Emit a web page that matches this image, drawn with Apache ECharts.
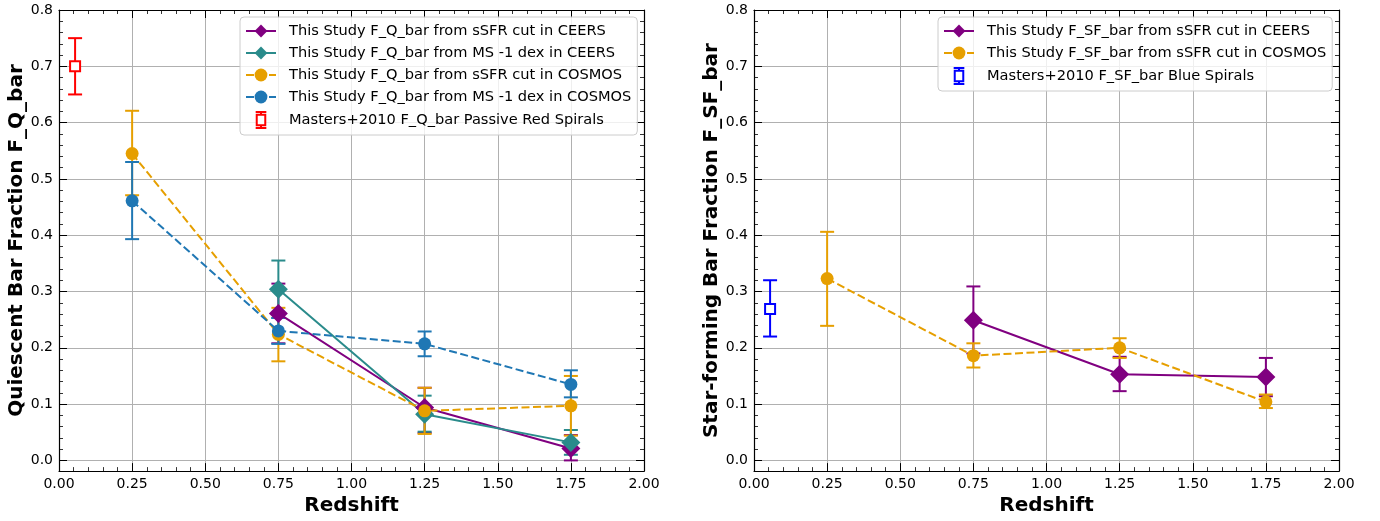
<!DOCTYPE html>
<html>
<head>
<meta charset="utf-8">
<script src="https://cdn.jsdelivr.net/npm/echarts@6/dist/echarts.min.js"></script>
<style>
html,body{margin:0;padding:0;background:#fff;}
#chart{width:1380px;height:521px;}
</style>
</head>
<body>
<div id="chart"></div>
<script>
// ---- Data: rows are [redshift, fraction, lowerErr, upperErr] ----
const fqSsfrCeers   = [[0.75, 0.261, 0.208, 0.314], [1.25, 0.094, 0.049, 0.129], [1.75, 0.021, 0.000, 0.045]];
const fqMsCeers     = [[0.75, 0.304, 0.253, 0.355], [1.25, 0.082, 0.051, 0.115], [1.75, 0.032, 0.010, 0.054]];
const fqSsfrCosmos  = [[0.25, 0.545, 0.471, 0.621], [0.75, 0.224, 0.176, 0.271], [1.25, 0.088, 0.047, 0.129], [1.75, 0.097, 0.044, 0.150]];
const fqMsCosmos    = [[0.25, 0.461, 0.393, 0.530], [0.75, 0.230, 0.207, 0.253], [1.25, 0.207, 0.185, 0.229], [1.75, 0.135, 0.112, 0.160]];
const fqMasters     = [[0.055, 0.700, 0.650, 0.750]];
const fsfSsfrCeers  = [[0.75, 0.249, 0.190, 0.309], [1.25, 0.153, 0.123, 0.184], [1.75, 0.148, 0.114, 0.182]];
const fsfSsfrCosmos = [[0.25, 0.323, 0.239, 0.406], [0.75, 0.186, 0.165, 0.208], [1.25, 0.200, 0.182, 0.217], [1.75, 0.104, 0.093, 0.117]];
const fsfMasters    = [[0.055, 0.269, 0.220, 0.320]];

const leftNames = [
  'This Study F_Q_bar from sSFR cut in CEERS',
  'This Study F_Q_bar from MS -1 dex in CEERS',
  'This Study F_Q_bar from sSFR cut in COSMOS',
  'This Study F_Q_bar from MS -1 dex in COSMOS',
  'Masters+2010 F_Q_bar Passive Red Spirals'
];
const rightNames = [
  'This Study F_SF_bar from sSFR cut in CEERS',
  'This Study F_SF_bar from sSFR cut in COSMOS',
  'Masters+2010 F_SF_bar Blue Spirals'
];
const xTitle = 'Redshift';
const yTitleLeft = 'Quiescent Bar Fraction F_Q_bar';
const yTitleRight = 'Star-forming Bar Fraction F_SF_bar';

const C_PURPLE = '#800080', C_TEAL = '#2a8b8b', C_ORANGE = '#e69f00', C_BLUE = '#1f77b4';
const FONT = 'DejaVu Sans';

function xAxes(g) {
  const base = {
    type: 'value', gridIndex: g, min: 0, max: 2, interval: 0.25,
    axisLine: {show: true, onZero: false, lineStyle: {color: '#000', width: 1.2}},
    axisTick: {show: true, inside: true, length: 8, lineStyle: {color: '#000', width: 1}},
    minorTick: {show: true, splitNumber: 5, length: 4, lineStyle: {color: '#000', width: 0.8}},
  };
  return [
    Object.assign({}, base, {
      position: 'bottom',
      splitLine: {show: true, lineStyle: {color: '#b0b0b0', width: 1}},
      axisLabel: {formatter: v => v.toFixed(2), fontSize: 14, color: '#000', margin: 6, fontFamily: FONT},
      name: xTitle, nameLocation: 'middle', nameGap: 22,
      nameTextStyle: {fontWeight: 'bold', fontSize: 20, color: '#000', fontFamily: FONT}
    }),
    Object.assign({}, base, {
      position: 'top', splitLine: {show: false}, axisLabel: {show: false}
    })
  ];
}
function yAxes(g, title) {
  const base = {
    type: 'value', gridIndex: g, min: -0.019, max: 0.8, splitNumber: 8,
    minInterval: 0.1, maxInterval: 0.1,
    axisLine: {show: true, onZero: false, lineStyle: {color: '#000', width: 1.2}},
    axisTick: {show: true, inside: true, length: 8, lineStyle: {color: '#000', width: 1}},
    minorTick: {show: true, splitNumber: 5, length: 4, lineStyle: {color: '#000', width: 0.8}},
  };
  return [
    Object.assign({}, base, {
      position: 'left',
      splitLine: {show: true, lineStyle: {color: '#b0b0b0', width: 1}},
      axisLabel: {formatter: v => v.toFixed(1), fontSize: 14, color: '#000', margin: 6, fontFamily: FONT,
                  showMinLabel: false},
      name: title, nameLocation: 'middle', nameGap: 32,
      nameTextStyle: {fontWeight: 'bold', fontSize: 20, color: '#000', fontFamily: FONT}
    }),
    Object.assign({}, base, {
      position: 'right', splitLine: {show: false}, axisLabel: {show: false}
    })
  ];
}

function errRender(color) {
  return function (params, api) {
    const x = api.value(0), lo = api.value(1), hi = api.value(2);
    const pLo = api.coord([x, lo]), pHi = api.coord([x, hi]);
    const hw = 7;
    const style = {stroke: color, lineWidth: 2, fill: null};
    return {
      type: 'group',
      children: [
        {type: 'line', shape: {x1: pLo[0], y1: pLo[1], x2: pHi[0], y2: pHi[1]}, style: style},
        {type: 'line', shape: {x1: pLo[0] - hw, y1: pLo[1], x2: pLo[0] + hw, y2: pLo[1]}, style: style},
        {type: 'line', shape: {x1: pHi[0] - hw, y1: pHi[1], x2: pHi[0] + hw, y2: pHi[1]}, style: style}
      ]
    };
  };
}

function errSeries(rows, color, g, id) {
  return {
    type: 'custom', name: id, coordinateSystem: 'cartesian2d',
    xAxisIndex: g * 2, yAxisIndex: g * 2,
    renderItem: errRender(color),
    data: rows.map(r => [r[0], r[2], r[3]]),
    encode: {x: 0, y: [1, 2]}, silent: true, clip: false
  };
}
function lineSeries(rows, name, color, symbol, size, dashed, g) {
  return {
    type: 'line', name: name, xAxisIndex: g * 2, yAxisIndex: g * 2,
    data: rows.map(r => [r[0], r[1]]),
    symbol: symbol, symbolSize: size, showSymbol: true,
    lineStyle: {color: color, width: 2, type: dashed ? [8, 3.5] : 'solid'},
    itemStyle: {color: color, opacity: 1},
    emphasis: {disabled: true}
  };
}
function squareSeries(rows, name, color, g) {
  return {
    type: 'scatter', name: name, xAxisIndex: g * 2, yAxisIndex: g * 2,
    data: rows.map(r => [r[0], r[1]]),
    symbol: 'rect', symbolSize: 10,
    itemStyle: {color: '#fff', borderColor: color, borderWidth: 2, opacity: 1},
    emphasis: {disabled: true}
  };
}

const capIcon = 'path://M2,0.5H12M7,0.5V3M2,15.5H12M7,13V15.5M3,3H11V13H3Z';

function legendCfg(names, left, squareColor) {
  return {
    orient: 'vertical', left: left, top: 17,
    itemWidth: 30, itemHeight: 16, itemGap: 6,
    padding: [6, 6, 6, 5],
    backgroundColor: 'rgba(255,255,255,0.8)',
    borderColor: '#cccccc', borderWidth: 1, borderRadius: 4,
    textStyle: {fontSize: 14.6, lineHeight: 16, color: '#000', fontFamily: FONT, padding: [0, 0, 0, 8]},
    selectedMode: false,
    data: names.map((n, i) => i === names.length - 1
      ? {name: n, icon: capIcon, itemStyle: {color: '#fff', borderColor: squareColor, borderWidth: 2}}
      : {name: n})
  };
}

const option = {
  animation: false,
  backgroundColor: '#fff',
  textStyle: {fontFamily: FONT},
  grid: [
    {left: 59, top: 10, width: 585, height: 465, containLabel: false},
    {left: 754, top: 10, width: 585, height: 465, containLabel: false}
  ],
  xAxis: [].concat(xAxes(0), xAxes(1)),
  yAxis: [].concat(yAxes(0, yTitleLeft), yAxes(1, yTitleRight)),
  legend: [legendCfg(leftNames, 240, 'red'), legendCfg(rightNames, 938, 'blue')],
  series: [
    errSeries(fqSsfrCeers, C_PURPLE, 0, 'e1'),
    lineSeries(fqSsfrCeers, leftNames[0], C_PURPLE, 'diamond', 19, false, 0),
    errSeries(fqMsCeers, C_TEAL, 0, 'e2'),
    lineSeries(fqMsCeers, leftNames[1], C_TEAL, 'diamond', 19, false, 0),
    errSeries(fqSsfrCosmos, C_ORANGE, 0, 'e3'),
    lineSeries(fqSsfrCosmos, leftNames[2], C_ORANGE, 'circle', 13, true, 0),
    errSeries(fqMsCosmos, C_BLUE, 0, 'e4'),
    lineSeries(fqMsCosmos, leftNames[3], C_BLUE, 'circle', 13, true, 0),
    errSeries(fqMasters, 'red', 0, 'e5'),
    squareSeries(fqMasters, leftNames[4], 'red', 0),

    errSeries(fsfSsfrCeers, C_PURPLE, 1, 'e6'),
    lineSeries(fsfSsfrCeers, rightNames[0], C_PURPLE, 'diamond', 19, false, 1),
    errSeries(fsfSsfrCosmos, C_ORANGE, 1, 'e7'),
    lineSeries(fsfSsfrCosmos, rightNames[1], C_ORANGE, 'circle', 13, true, 1),
    errSeries(fsfMasters, 'blue', 1, 'e8'),
    squareSeries(fsfMasters, rightNames[2], 'blue', 1)
  ]
};

const chart = echarts.init(document.getElementById('chart'), null, {renderer: 'canvas'});
chart.setOption(option);
</script>
</body>
</html>
